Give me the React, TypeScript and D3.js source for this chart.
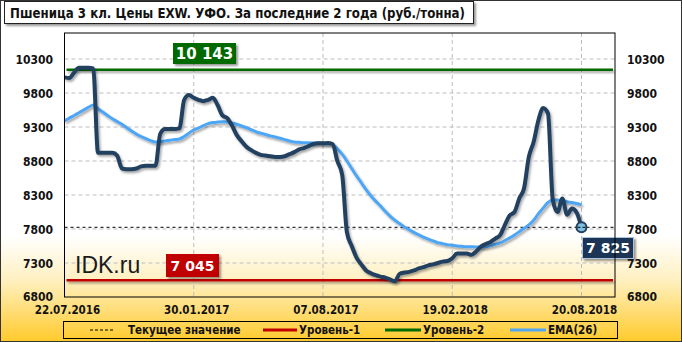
import React from 'react';
import * as d3 from 'd3';

const W = 682;
const H = 342;

// Weekly price series (руб./тонна)
const price: number[] = [
  10030, 10020, 10100, 10170, 10170, 10170, 10160, 8920, 8920, 8920,
  8920, 8880, 8690, 8680, 8680, 8690, 8720, 8730, 8730, 8730,
  9200, 9270, 9270, 9270, 9280, 9700, 9770, 9730, 9700, 9680,
  9700, 9730, 9620, 9470, 9430, 9320, 9180, 9090, 9010, 8960,
  8920, 8890, 8880, 8870, 8860, 8860, 8870, 8900, 8930, 8970,
  8990, 9020, 9050, 9060, 9060, 9065, 9050, 8800, 8600, 7750,
  7550, 7380, 7280, 7190, 7150, 7120, 7100, 7085, 7060, 7030,
  7140, 7160, 7170, 7190, 7220, 7240, 7265, 7280, 7300, 7320,
  7330, 7370, 7440, 7440, 7440, 7420, 7470, 7540, 7580, 7610,
  7660, 7710, 7860, 8000, 8050, 8250, 8400, 8860, 9080, 9400,
  9580, 9500, 8230, 8050, 8250, 8010, 8100, 8040, 7825,
];

// EMA(26)
const ema: number[] = [
  9388, 9430, 9470, 9510, 9550, 9590, 9624, 9570, 9520, 9470,
  9420, 9380, 9340, 9290, 9240, 9195, 9160, 9130, 9100, 9080,
  9085, 9095, 9105, 9115, 9124, 9160, 9210, 9260, 9285, 9320,
  9350, 9365, 9372, 9376, 9374, 9360, 9340, 9315, 9290, 9260,
  9230, 9210, 9190, 9170, 9153, 9135, 9115, 9095, 9080, 9075,
  9070, 9067, 9065, 9063, 9060, 9055, 9040, 8980, 8900, 8800,
  8690, 8580, 8480, 8380, 8290, 8210, 8140, 8060, 7990, 7930,
  7880, 7830, 7790, 7750, 7715, 7680, 7650, 7625, 7600, 7585,
  7570, 7560, 7550, 7545, 7540, 7538, 7536, 7535, 7540, 7555,
  7575, 7595, 7630, 7670, 7710, 7760, 7810, 7860, 7930, 8025,
  8110, 8190, 8226, 8226, 8215, 8200, 8190, 8175, 8155,
];

const xTickIdx = [0, 27, 54, 81, 108];
const xTickLabels = ['22.07.2016', '30.01.2017', '07.08.2017', '19.02.2018', '20.08.2018'];
const yTicks = [6800, 7300, 7800, 8300, 8800, 9300, 9800, 10300];

const level1 = 7045;
const level2 = 10143;
const current = 7825;

const title = 'Пшеница  3  кл.  Цены  EXW.  УФО.  За  последние  2  года  (руб./тонна)';
const legendLabels = ['Текущее значение', 'Уровень-1', 'Уровень-2', 'EMA(26)'];

const C = {
  price: '#243f60',
  ema: '#4ea6f5',
  lvl1: '#c00000',
  lvl2: '#006b00',
  grid: '#bdbdbd',
};

const fmt = (v: number) => d3.format(',')(v).replace(/,/g, ' ');

export default function App() {
  const left = 64.5;
  const right = 615;
  const top = 33;
  const bottom = 297;

  const x = d3.scaleLinear().domain([0, 115]).range([left, right]);
  const y = d3
    .scaleLinear()
    .domain([6800, 6800 + ((bottom - top) / 34) * 500])
    .range([bottom, top]);

  const line = d3
    .line<number>()
    .x((_, i) => x(i))
    .y((d) => y(d))
    .curve(d3.curveMonotoneX);

  const lastI = price.length - 1;
  const axisFont = "'DejaVu Sans Condensed', 'DejaVu Sans', sans-serif";

  const legendX = [90, 263, 385, 510];
  const legendLineLen = [24, 34, 36, 36];

  return (
    <svg
      width={W}
      height={H}
      style={{ position: 'absolute', left: 0, top: 0 }}
      fontFamily={axisFont}
    >
      <defs>
        <linearGradient id="bg" x1="0" y1="0" x2="0" y2="1">
          <stop offset="0" stopColor="#ffffff" />
          <stop offset="0.69" stopColor="#ffffff" />
          <stop offset="0.82" stopColor="#fff0c0" />
          <stop offset="1" stopColor="#ffca2a" />
        </linearGradient>
        <filter id="sh" filterUnits="userSpaceOnUse" x="0" y="0" width={W} height={H}>
          <feDropShadow dx="1.5" dy="2" stdDeviation="1" floodColor="#000" floodOpacity="0.35" />
        </filter>
        <filter id="shBox" x="-10%" y="-20%" width="130%" height="160%">
          <feDropShadow dx="2" dy="2" stdDeviation="1" floodColor="#000" floodOpacity="0.4" />
        </filter>
        <clipPath id="plotClip">
          <rect x={left} y={top} width={right - left} height={bottom - top} />
        </clipPath>
      </defs>

      <rect x={0} y={0} width={W} height={H} fill="url(#bg)" />
      <rect x={0.5} y={0.5} width={W - 1} height={H - 1} fill="none" stroke="#333" />

      {/* grid */}
      {yTicks
        .filter((t) => t > 6800)
        .map((t) => (
          <line key={'gy' + t} x1={left} x2={right} y1={y(t)} y2={y(t)} stroke={C.grid} strokeDasharray="4,3" />
        ))}
      {xTickIdx
        .filter((i) => i > 0)
        .map((i) => (
          <line key={'gx' + i} x1={x(i)} x2={x(i)} y1={top} y2={bottom} stroke={C.grid} strokeDasharray="4,3" />
        ))}

      {/* current value dashed line */}
      <line x1={left} x2={right} y1={y(current)} y2={y(current)} stroke="#000" strokeDasharray="3,3" />

      {/* levels */}
      <line x1={left + 2} x2={right - 2} y1={y(level2)} y2={y(level2)} stroke={C.lvl2} strokeWidth={2.5} filter="url(#sh)" />
      <line x1={left + 2} x2={right - 2} y1={y(level1)} y2={y(level1)} stroke={C.lvl1} strokeWidth={2.5} filter="url(#sh)" />

      <g clipPath="url(#plotClip)">
        <path d={line(ema) || ''} fill="none" stroke={C.ema} strokeWidth={3} filter="url(#sh)" />
        <path d={line(price) || ''} fill="none" stroke={C.price} strokeWidth={4} strokeLinejoin="round" filter="url(#sh)" />
      </g>

      {/* IDK.ru watermark */}
      <text x={75} y={273} fontFamily="'Liberation Sans', Arial, sans-serif" fontSize={23} fill="#1a1a1a">
        IDK.ru
      </text>

      {/* level labels */}
      <g filter="url(#shBox)">
        <rect x={173} y={43} width={63} height={21} fill={C.lvl2} />
        <rect x={166} y={254} width={53} height={23} fill={C.lvl1} />
      </g>
      <text x={204.5} y={59} textAnchor="middle" fill="#fff" fontWeight="bold" fontSize={15} fontFamily="'DejaVu Sans', sans-serif">
        {fmt(level2)}
      </text>
      <text x={192.5} y={271} textAnchor="middle" fill="#fff" fontWeight="bold" fontSize={14} fontFamily="'DejaVu Sans', sans-serif">
        {fmt(level1)}
      </text>

      {/* last point marker */}
      <circle cx={x(lastI)} cy={y(price[lastI])} r={5} fill="#7fbfe0" stroke={C.price} strokeWidth={2} />
      <line x1={x(lastI) - 4} x2={x(lastI) + 4} y1={y(current)} y2={y(current)} stroke="#000" strokeDasharray="3,2" />
      <g filter="url(#shBox)">
        <rect x={582.5} y={237.5} width={51} height={21} fill="#1d3557" stroke="#a9c4dc" strokeWidth={1} />
      </g>
      <text x={608} y={253} textAnchor="middle" fill="#fff" fontWeight="bold" fontSize={14} fontFamily="'DejaVu Sans', sans-serif">
        {fmt(current)}
      </text>

      {/* plot border */}
      <rect x={left} y={top} width={right - left} height={bottom - top} fill="none" stroke="#000" strokeWidth={1} />

      {/* y labels */}
      {yTicks.map((t) => (
        <g key={'yl' + t}>
          <text x={53} y={y(t) + (t === 6800 ? 3.5 : 4.5)} textAnchor="end" fontWeight="bold" fontSize={12} fill="#111">
            {t}
          </text>
          <text x={627} y={y(t) + (t === 6800 ? 3.5 : 4.5)} textAnchor="start" fontWeight="bold" fontSize={12} fill="#111">
            {t}
          </text>
        </g>
      ))}

      {/* x labels */}
      {xTickIdx.map((i, k) => (
        <text key={'xl' + i} x={x(i) + 3} y={314} textAnchor="middle" fontWeight="bold" fontSize={11.5} fill="#111">
          {xTickLabels[k]}
        </text>
      ))}

      {/* legend */}
      <rect x={63.5} y={321.5} width={554} height={17} fill="none" stroke="#000" strokeWidth={1} />
      {legendLabels.map((lab, k) => {
        const lx = legendX[k];
        const len = legendLineLen[k];
        const stroke = k === 0 ? '#000' : k === 1 ? C.lvl1 : k === 2 ? C.lvl2 : C.ema;
        return (
          <g key={'lg' + k}>
            <line
              x1={lx}
              x2={lx + len}
              y1={330}
              y2={330}
              stroke={stroke}
              strokeWidth={k === 0 ? 1 : 3}
              strokeDasharray={k === 0 ? '3,2' : undefined}
            />
            <text x={lx + len + (k === 0 ? 14 : 2)} y={334} fontWeight="bold" fontSize={11.5} fill="#111">
              {lab}
            </text>
          </g>
        );
      })}

      {/* title */}
      <rect x={4.5} y={1.5} width={469} height={22} fill="#fff" stroke="#222" filter="url(#shBox)" />
      <text x={10} y={18} fontWeight="bold" fontSize={14} fill="#111" textLength={455} lengthAdjust="spacingAndGlyphs">
        {title}
      </text>
    </svg>
  );
}
